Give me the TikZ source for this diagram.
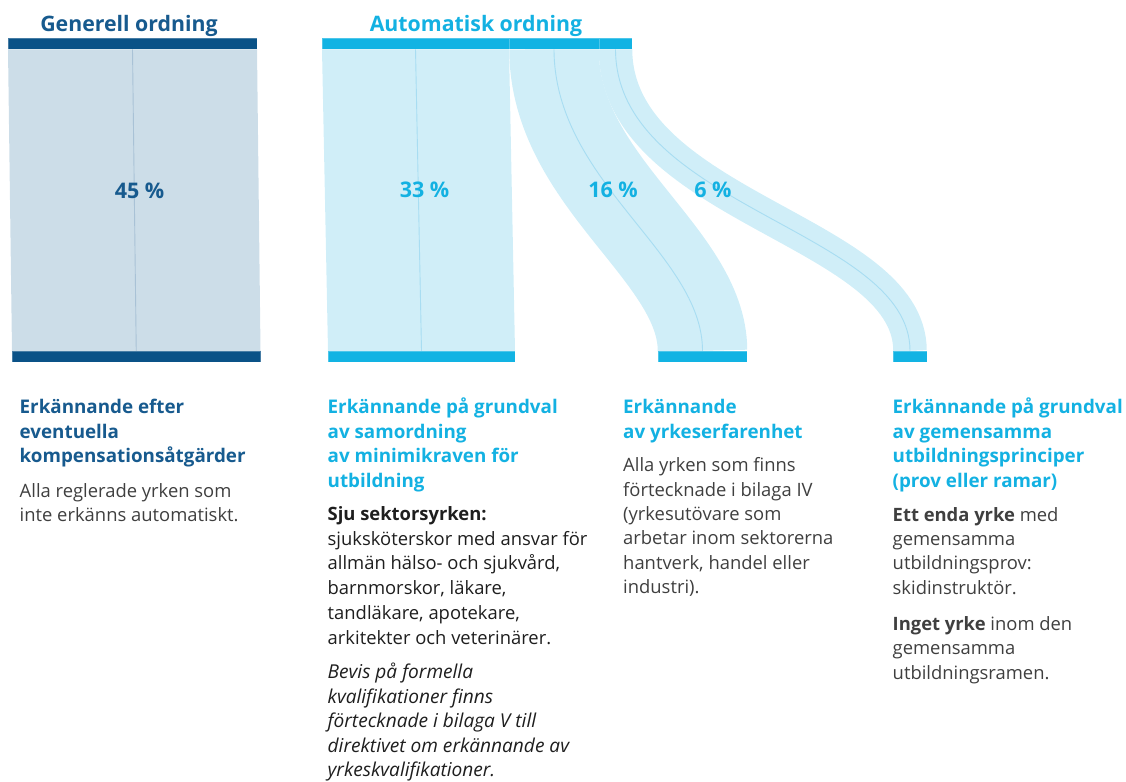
\documentclass[tikz,border=0pt]{standalone}
\usepackage{fontspec}
\setmainfont{Open Sans}
\definecolor{darkblue}{HTML}{0A5287}
\definecolor{darktext}{HTML}{175A8E}
\definecolor{genband}{HTML}{CCDDE8}
\definecolor{genline}{HTML}{A9C2D6}
\definecolor{cyanbar}{HTML}{12B3E3}
\definecolor{cyantext}{HTML}{13B1E2}
\definecolor{autoband}{HTML}{D0EEF8}
\definecolor{autoline}{HTML}{A8DDF2}
\definecolor{bodygray}{HTML}{3F3F3F}
\definecolor{bodyblack}{HTML}{1E1E1E}
\pgfdeclarelayer{background}
\pgfsetlayers{background,main}
\tikzset{
  bar/.style={rectangle, inner sep=0pt, outer sep=0pt, draw=white, draw opacity=0.25, line width=0.4pt},
  genbar/.style={bar, fill=darkblue},
  autobar/.style={bar, fill=cyanbar},
  title/.style={anchor=base, inner sep=0pt, font=\fontsize{21.3}{26}\selectfont\bfseries},
  pct/.style={anchor=base, inner sep=0pt, font=\fontsize{21.5}{24}\selectfont\bfseries},
  head/.style={anchor=north west, inner sep=0pt, align=left, font=\fontsize{18.8}{24.5}\selectfont\bfseries},
  body/.style={anchor=north west, inner sep=0pt, align=left, font=\fontsize{18.4}{24.5}\selectfont},
  centerline/.style={line width=0.9pt},
}
\newcommand{\firstline}{\rule{0pt}{16pt}}
\begin{document}
\begin{tikzpicture}[x=1pt,y=-1pt]
\useasboundingbox (0,0) rectangle (1126,781);

% titles
\node[title, text=darktext] (t1) at (129,32) {Generell ordning};
\node[title, text=cyantext] (t2) at (476,32) {Automatisk ordning};

% top bars
\node[genbar, minimum width=249pt, minimum height=11pt] (gtop) at (132.5,43.5) {};
\node[autobar, minimum width=187pt, minimum height=11pt] (a1top) at (415.5,43.5) {};
\node[autobar, minimum width=90pt, minimum height=11pt] (a2top) at (554,43.5) {};
\node[autobar, minimum width=33pt, minimum height=11pt] (a3top) at (615.5,43.5) {};

% bottom bars
\node[genbar, minimum width=248.5pt, minimum height=11.5pt] (gbot) at (136.25,356.5) {};
\node[autobar, minimum width=187pt, minimum height=11.5pt] (a1bot) at (421.5,356.5) {};
\node[autobar, minimum width=89pt, minimum height=11.5pt] (a2bot) at (702.5,356.5) {};
\node[autobar, minimum width=34pt, minimum height=11.5pt] (a3bot) at (910,356.5) {};

\begin{pgfonlayer}{background}
  % general band
  \fill[genband] (gtop.south west) -- (gtop.south east) -- (gbot.north east) -- (gbot.north west) -- cycle;
  \draw[genline, centerline] (gtop.south) -- (gbot.north);
  % band 1
  \fill[autoband] (a1top.south west) -- (a1top.south east) -- (a1bot.north east) -- (a1bot.north west) -- cycle;
  \draw[autoline, centerline] (a1top.south) -- (a1bot.north);
  % band 2
  \draw[autoband, line width=89.5pt] (a2top.south) .. controls +(0,133) and +(0,-97.5) .. (a2bot.north);
  \draw[autoline, centerline] (a2top.south) .. controls +(0,133) and +(0,-97.5) .. (a2bot.north);
  % band 3
  \draw[autoband, line width=33.5pt] (a3top.south) .. controls +(0,158) and +(0,-120.5) .. (a3bot.north);
  \draw[autoline, centerline] (a3top.south) .. controls +(0,158) and +(0,-120.5) .. (a3bot.north);
\end{pgfonlayer}

% percentages
\node[pct, text=darktext] (p45) at (139.5,198) {45 \%};
\node[pct, text=cyantext] (p33) at (424.5,197.5) {33 \%};
\node[pct, text=cyantext] (p16) at (613,197.5) {16 \%};
\node[pct, text=cyantext] (p6) at (713,197.5) {6 \%};

% column 1
\node[head, text=darktext] (h1) at (19.5,397.5) {\firstline Erkännande efter\\eventuella\\kompensationsåtgärder};
\node[body, text=bodygray, font=\fontsize{18.4}{24}\selectfont] (b1) at (19.5,481) {\firstline Alla reglerade yrken som\\inte erkänns automatiskt.};

% column 2
\node[head, text=cyantext] (h2) at (327.5,397.5) {\firstline Erkännande på grundval\\av samordning\\av minimikraven för\\utbildning};
\node[body, text=bodyblack, font=\fontsize{18.4}{24.8}\selectfont] (b2) at (327.5,504) {\firstline\textbf{Sju sektorsyrken:}\\sjuksköterskor med ansvar för\\allmän hälso- och sjukvård,\\barnmorskor, läkare,\\tandläkare, apotekare,\\arkitekter och veterinärer.};
\node[body, text=bodyblack, font=\fontsize{19.1}{24.6}\selectfont\itshape] (i2) at (327.5,662.3) {\firstline Bevis på formella\\kvalifikationer finns\\förtecknade i bilaga V till\\direktivet om erkännande av\\yrkeskvalifikationer.};

% column 3
\node[head, text=cyantext] (h3) at (623,397.5) {\firstline Erkännande\\av yrkeserfarenhet};
\node[body, text=bodygray, font=\fontsize{18.4}{24.3}\selectfont] (b3) at (623,455.7) {\firstline Alla yrken som finns\\förtecknade i bilaga IV\\(yrkesutövare som\\arbetar inom sektorerna\\hantverk, handel eller\\industri).};

% column 4
\node[head, text=cyantext] (h4) at (892.5,397.5) {\firstline Erkännande på grundval\\av gemensamma\\utbildningsprinciper\\(prov eller ramar)};
\node[body, text=bodygray, font=\fontsize{18.4}{24.3}\selectfont] (b4) at (892.5,505) {\firstline\textbf{Ett enda yrke} med\\gemensamma\\utbildningsprov:\\skidinstruktör.};
\node[body, text=bodygray, font=\fontsize{18.4}{24.7}\selectfont] (c4) at (892.5,614) {\firstline\textbf{Inget yrke} inom den\\gemensamma\\utbildningsramen.};
\end{tikzpicture}
\end{document}
